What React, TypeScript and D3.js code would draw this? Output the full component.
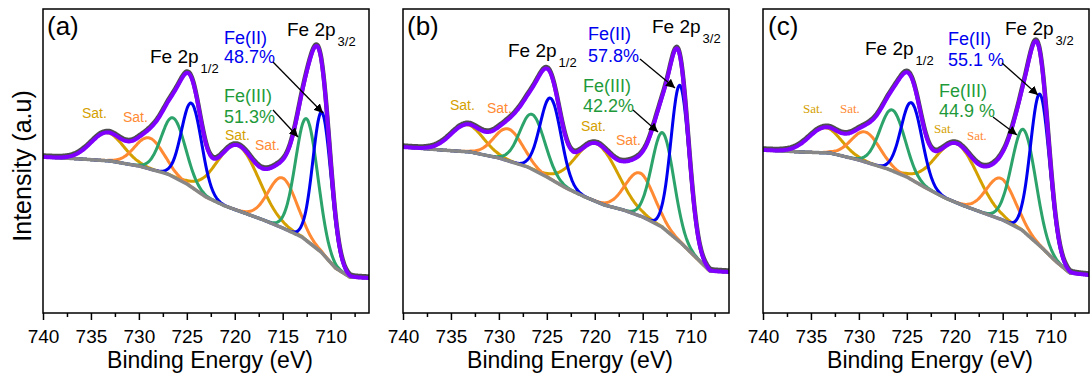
import React, { useRef, useEffect } from 'react';
import * as d3 from 'd3';

// x axis
const energyTicks = [740, 735, 730, 725, 720, 715, 710];
const minorTicks = [737.5, 732.5, 727.5, 722.5, 717.5, 712.5, 707.5];

const panelNames = ['(a)', '(b)', '(c)'];
const fe2Percent = ['48.7%', '57.8%', '55.1 %'];
const fe3Percent = ['51.3%', '42.2%', '44.9 %'];

// Shirley background, read at these energies
const bgEnergy = [740, 736, 733, 730, 727, 725, 723, 721, 719, 717, 715, 713, 711, 709.5, 708, 706];
const bgA = [156, 154, 152, 147, 139, 129, 116, 107, 100, 93, 85, 76, 61, 45, 36, 35];
const bgB = [166, 163, 161, 155, 146, 136, 125, 116, 108, 103, 96, 86, 70, 56, 42, 41];
const bgC = [163, 161, 160, 153, 144, 136, 125, 115, 107, 100, 93, 83, 66, 52, 40, 38];

// fitted peaks: [centre eV, height, sigma eV] for 2p1/2 and 2p3/2
const goldSatA = [[733.3, 28, 1.7], [719.7, 65, 2.2]];
const orangeSatA = [[728.9, 31, 1.5], [715.0, 50, 1.5]];
const fe3A = [[726.4, 59, 1.25], [712.5, 122, 1.15]];
const fe2A = [[724.5, 84, 1.05], [710.9, 141, 0.95]];

const goldSatB = [[733.3, 27, 1.7], [719.8, 58, 2.2]];
const orangeSatB = [[729.0, 32, 1.5], [715.3, 43, 1.5]];
const fe3B = [[726.5, 55, 1.3], [712.9, 95, 1.15]];
const fe2B = [[724.6, 81, 1.1], [711.1, 157, 0.95]];

const goldSatC = [[733.5, 25, 1.7], [719.8, 59, 2.2]];
const orangeSatC = [[729.3, 30, 1.5], [715.2, 41, 1.5]];
const fe3C = [[726.5, 61, 1.3], [712.8, 102, 1.25]];
const fe2C = [[724.5, 77, 1.1], [711.1, 152, 1.0]];

const panels = [
  { bg: bgA, gold: goldSatA, orange: orangeSatA, fe3: fe3A, fe2: fe2A },
  { bg: bgB, gold: goldSatB, orange: orangeSatB, fe3: fe3B, fe2: fe2B },
  { bg: bgC, gold: goldSatC, orange: orangeSatC, fe3: fe3C, fe2: fe2C },
];

// annotation placement (px, x relative to panel left)
const layout = [
  { label: [4, 35], p32: [244, 36], p12: [107, 63], fe2: [181, 44, 63], fe3: [181, 102, 123],
    a2: [230, 62, 280, 113], a3: [230, 110, 255, 137],
    sats: [[39, 118], [80, 122], [182, 140], [212, 150]], satFont: 'Liberation Sans', satSize: 14 },
  { label: [4, 35], p32: [249, 33], p12: [105, 57], fe2: [185, 40, 62], fe3: [180, 92, 112],
    a2: [237, 59, 272, 88], a3: [230, 110, 255, 132],
    sats: [[47, 110], [84, 113], [178, 131], [213, 145]], satFont: 'Liberation Sans', satSize: 14 },
  { label: [5, 35], p32: [242, 35], p12: [102, 55], fe2: [185, 45, 66], fe3: [176, 97, 117],
    a2: [239, 63, 275, 95], a3: [230, 117, 254, 135],
    sats: [[40, 113], [77, 113], [171, 133], [204, 140]], satFont: 'Liberation Serif', satSize: 13 },
];

const W = 1091, H = 376;
const panelLeft = [43, 403, 763];
const panelW = 326, top = 9, bottom = 313;
const font = 'Liberation Sans, Arial, sans-serif';

const colors = {
  bg: '#878787', data: '#4d4d4d', env: '#8000ff', fe2: '#0000f0',
  fe3: '#2ca36a', orange: '#ff8a33', gold: '#d4a000',
};

const App = () => {
  const svgRef = useRef(null);

  useEffect(() => {
    const svg = d3.select(svgRef.current);
    svg.selectAll('*').remove();

    svg.append('defs').append('marker')
      .attr('id', 'arr')
      .attr('viewBox', '0 0 10 10')
      .attr('refX', 10).attr('refY', 5)
      .attr('markerWidth', 9).attr('markerHeight', 9)
      .attr('markerUnits', 'userSpaceOnUse')
      .attr('orient', 'auto')
      .append('path').attr('d', 'M0,0 L10,5 L0,10 z').attr('fill', '#000');

    const y = d3.scaleLinear().domain([0, bottom - top]).range([bottom, top]);
    const samples = d3.range(740, 705.95, -0.1);

    panels.forEach((p, i) => {
      const left = panelLeft[i];
      const L = layout[i];
      const x = d3.scaleLinear().domain([740, 706]).range([left, left + panelW]);
      const g = svg.append('g');

      const bgOf = d3.scaleLinear().domain(bgEnergy).range(p.bg);
      const gauss = (e, pk) => pk[1] * Math.exp(-((e - pk[0]) ** 2) / (2 * pk[2] * pk[2]));
      const comp = (peaks) => samples.map(e => [e, bgOf(e) + peaks.reduce((s, pk) => s + gauss(e, pk), 0)]);
      const all = [...p.gold, ...p.orange, ...p.fe3, ...p.fe2];

      const line = d3.line().x(d => x(d[0])).y(d => y(d[1])).curve(d3.curveBasis);

      const clip = 'clip' + i;
      svg.select('defs').append('clipPath').attr('id', clip)
        .append('rect').attr('x', left).attr('y', top).attr('width', panelW).attr('height', bottom - top);
      const plot = g.append('g').attr('clip-path', `url(#${clip})`);

      const draw = (data, color, w, dy = 0) => plot.append('path')
        .attr('d', line(data)).attr('fill', 'none').attr('stroke', color)
        .attr('stroke-width', w).attr('stroke-linejoin', 'round')
        .attr('transform', `translate(0,${dy})`);

      draw(comp(p.gold), colors.gold, 3);
      draw(comp(p.orange), colors.orange, 3);
      draw(comp(p.fe3), colors.fe3, 3);
      draw(comp(p.fe2), colors.fe2, 3);
      draw(samples.map(e => [e, bgOf(e)]), colors.bg, 3.5);
      const env = comp(all);
      draw(env, colors.data, 4.5, -1.5);
      draw(env, colors.env, 4);

      // frame
      g.append('rect').attr('x', left).attr('y', top).attr('width', panelW).attr('height', bottom - top)
        .attr('fill', 'none').attr('stroke', '#000').attr('stroke-width', 1.5);

      const ax = g.append('g').attr('transform', `translate(0,${bottom})`)
        .call(d3.axisBottom(x).tickValues(energyTicks).tickSize(7).tickPadding(10));
      ax.select('.domain').remove();
      ax.selectAll('line').attr('stroke-width', 1.5);
      ax.selectAll('text').attr('font-family', font).attr('font-size', 19).attr('fill', '#000');
      const mi = g.append('g').attr('transform', `translate(0,${bottom})`)
        .call(d3.axisBottom(x).tickValues(minorTicks).tickSize(4).tickFormat(() => ''));
      mi.select('.domain').remove();
      mi.selectAll('line').attr('stroke-width', 1.5);

      g.append('text').attr('x', left + panelW / 2 + 4).attr('y', 368)
        .attr('text-anchor', 'middle').attr('font-family', font).attr('font-size', 23)
        .text('Binding Energy (eV)');

      const t = (tx, ty, txt, size, color = '#000', fam = font) => g.append('text')
        .attr('x', left + tx).attr('y', ty).attr('font-family', fam)
        .attr('font-size', size).attr('fill', color).text(txt);

      t(L.label[0], L.label[1], panelNames[i], 26);
      const fe = (pos, sub) => {
        const tx = t(pos[0], pos[1], 'Fe 2p', 19);
        tx.append('tspan').attr('dx', 2).attr('dy', 10).attr('font-size', 13).text(sub);
      };
      fe(L.p32, '3/2');
      fe(L.p12, '1/2');
      t(L.fe2[0], L.fe2[1], 'Fe(II)', 18, colors.fe2);
      t(L.fe2[0], L.fe2[2], fe2Percent[i], 18, colors.fe2);
      t(L.fe3[0], L.fe3[1], 'Fe(III)', 18, '#1f9a3a');
      t(L.fe3[0], L.fe3[2], fe3Percent[i], 18, '#1f9a3a');

      [L.a2, L.a3].forEach(a => {
        g.append('line').attr('x1', left + a[0]).attr('y1', a[1]).attr('x2', left + a[2]).attr('y2', a[3])
          .attr('stroke', '#000').attr('stroke-width', 1.3).attr('marker-end', 'url(#arr)');
      });

      L.sats.forEach((s, k) => t(s[0], s[1], 'Sat.', L.satSize, k % 2 === 0 ? colors.gold : colors.orange, L.satFont));
    });

    svg.append('text')
      .attr('transform', 'translate(31,166) rotate(-90)')
      .attr('text-anchor', 'middle').attr('font-family', font).attr('font-size', 25)
      .text('Intensity (a.u)');
  }, []);

  return (
    <svg ref={svgRef} width={W} height={H}
      style={{ position: 'absolute', left: 0, top: 0, background: '#fff' }} />
  );
};

export default App;
